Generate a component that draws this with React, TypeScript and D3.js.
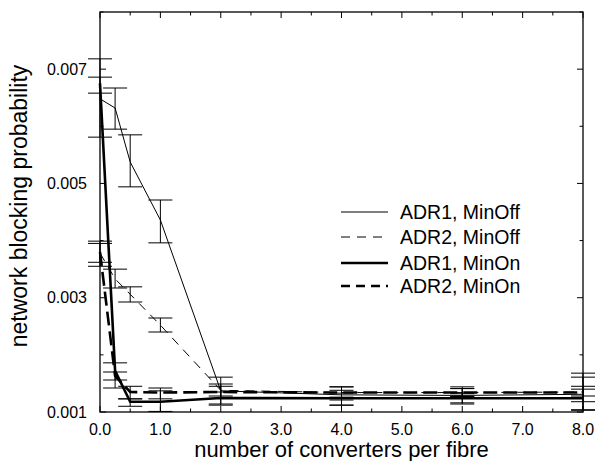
import React from "react";
import * as d3 from "d3";

const xVals = [0, 0.25, 0.5, 1, 2, 4, 6, 8];

const adr1MinOff = [0.00648, 0.00632, 0.005375, 0.00436, 0.00137, 0.0013, 0.00129, 0.00131];
const adr1MinOffLo = [0.00581, 0.00595, 0.00494, 0.00396, 0.00112, 0.00112, 0.00114, 0.00104];
const adr1MinOffHi = [0.00686, 0.00667, 0.00585, 0.00471, 0.00161, 0.00144, 0.00144, 0.00168];

const adr2MinOff = [0.00378, 0.00333, 0.00306, 0.00252, 0.00138, 0.00134, 0.00134, 0.00135];
const adr2MinOffLo = [0.00355, 0.00317, 0.002925, 0.0024, 0.00128, 0.00121, 0.00127, 0.00118];
const adr2MinOffHi = [0.00399, 0.0035, 0.00319, 0.002645, 0.00149, 0.00144, 0.00141, 0.00161];

const adr1MinOn = [0.00675, 0.00172, 0.00118, 0.00118, 0.001245, 0.00124, 0.00124, 0.00124];
const adr1MinOnLo = [0.00658, 0.00156, 0.0011, 0.00101, 0.00114, 0.00112, 0.00116, 0.00103];
const adr1MinOnHi = [0.00718, 0.00186, 0.00123, 0.00137, 0.00135, 0.00133, 0.00132, 0.0014];

const adr2MinOn = [0.0038, 0.00163, 0.00135, 0.00134, 0.00135, 0.00134, 0.00134, 0.00134];
const adr2MinOnLo = [0.00362, 0.00142, 0.00123, 0.00123, 0.00124, 0.00126, 0.00127, 0.00128];
const adr2MinOnHi = [0.00395, 0.0017, 0.00145, 0.00142, 0.00145, 0.00138, 0.00141, 0.00145];

const seriesNames = ["ADR1, MinOff", "ADR2, MinOff", "ADR1, MinOn", "ADR2, MinOn"];

const xTicksMajor = [0, 1, 2, 3, 4, 5, 6, 7, 8];
const xTicksMinor = [0.5, 1.5, 2.5, 3.5, 4.5, 5.5, 6.5, 7.5];
const yTicksMajor = [0.001, 0.003, 0.005, 0.007];
const yTicksMinor = [0.002, 0.004, 0.006, 0.008];

const FONT = "'Liberation Sans', Arial, Helvetica, sans-serif";

export default function App() {
  const W = 597, H = 461;
  const left = 100, right = 583, top = 12, bottom = 412;
  const x = d3.scaleLinear().domain([0, 8]).range([left, right]);
  const y = d3.scaleLinear().domain([0.001, 0.008]).range([bottom, top]);

  const series = [
    { name: seriesNames[0], v: adr1MinOff, lo: adr1MinOffLo, hi: adr1MinOffHi, w: 1, dash: "none", legDash: "none" },
    { name: seriesNames[1], v: adr2MinOff, lo: adr2MinOffLo, hi: adr2MinOffHi, w: 1, dash: "9,7", legDash: "9,7" },
    { name: seriesNames[2], v: adr1MinOn, lo: adr1MinOnLo, hi: adr1MinOnHi, w: 2.6, dash: "none", legDash: "none" },
    { name: seriesNames[3], v: adr2MinOn, lo: adr2MinOnLo, hi: adr2MinOnHi, w: 2.6, dash: "14,6", legDash: "9,6" },
  ];

  const line = d3
    .line<number>()
    .x((_, i) => x(xVals[i]))
    .y((d) => y(d));

  const capW = 12;
  const legendY = [212, 237, 263, 286];

  return (
    <svg width={W} height={H} style={{ position: "absolute", left: 0, top: 0, background: "#fff" }} fontFamily={FONT}>
      <rect x={0} y={0} width={W} height={H} fill="#fff" />
      {/* error bars */}
      {series.map((s, si) => (
        <g key={"e" + si} stroke="#000" strokeWidth={1} fill="none">
          {xVals.map((xv, i) => {
            const cx = x(xv);
            return (
              <g key={i}>
                <line x1={cx} x2={cx} y1={y(s.lo[i])} y2={y(s.hi[i])} />
                <line x1={cx - capW} x2={cx + capW} y1={y(s.lo[i])} y2={y(s.lo[i])} />
                <line x1={cx - capW} x2={cx + capW} y1={y(s.hi[i])} y2={y(s.hi[i])} />
              </g>
            );
          })}
        </g>
      ))}
      {/* lines */}
      {series.map((s, si) => (
        <path
          key={"l" + si}
          d={line(s.v) || ""}
          fill="none"
          stroke="#000"
          strokeWidth={s.w}
          strokeDasharray={s.dash}
        />
      ))}
      {/* frame */}
      <rect x={left} y={top} width={right - left} height={bottom - top} fill="none" stroke="#000" strokeWidth={1.3} />
      {/* x ticks */}
      {xTicksMajor.map((t) => (
        <g key={"xm" + t} stroke="#000" strokeWidth={1}>
          <line x1={x(t)} x2={x(t)} y1={bottom} y2={bottom - 6} />
          <line x1={x(t)} x2={x(t)} y1={top} y2={top + 6} />
        </g>
      ))}
      {xTicksMinor.map((t) => (
        <g key={"xn" + t} stroke="#000" strokeWidth={1}>
          <line x1={x(t)} x2={x(t)} y1={bottom} y2={bottom - 3.5} />
          <line x1={x(t)} x2={x(t)} y1={top} y2={top + 3.5} />
        </g>
      ))}
      {xTicksMajor.map((t) => (
        <text key={"xl" + t} x={x(t)} y={435} fontSize={16} textAnchor="middle" fill="#000">
          {d3.format(".1f")(t)}
        </text>
      ))}
      {/* y ticks */}
      {yTicksMajor.map((t) => (
        <g key={"ym" + t} stroke="#000" strokeWidth={1}>
          <line x1={left} x2={left + 6} y1={y(t)} y2={y(t)} />
          <line x1={right} x2={right - 6} y1={y(t)} y2={y(t)} />
        </g>
      ))}
      {yTicksMinor.map((t) => (
        <g key={"yn" + t} stroke="#000" strokeWidth={1}>
          <line x1={left} x2={left + 3.5} y1={y(t)} y2={y(t)} />
          <line x1={right} x2={right - 3.5} y1={y(t)} y2={y(t)} />
        </g>
      ))}
      {yTicksMajor.map((t) => (
        <text key={"yl" + t} x={87} y={y(t)} dy="0.35em" fontSize={16} textAnchor="end" fill="#000">
          {d3.format(".3f")(t)}
        </text>
      ))}
      {/* axis titles */}
      <text x={(left + right) / 2} y={457} fontSize={22} textAnchor="middle" fill="#000">
        number of converters per fibre
      </text>
      <text
        transform={`translate(27,${(top + bottom) / 2 - 6}) rotate(-90)`}
        fontSize={23}
        textAnchor="middle"
        fill="#000"
      >
        network blocking probability
      </text>
      {/* legend */}
      {series.map((s, si) => (
        <g key={"lg" + si}>
          <line
            x1={341}
            x2={388}
            y1={legendY[si]}
            y2={legendY[si]}
            stroke="#000"
            strokeWidth={s.w}
            strokeDasharray={s.legDash}
          />
          <text x={400} y={legendY[si]} dy="0.35em" fontSize={19.5} fill="#000">
            {s.name}
          </text>
        </g>
      ))}
    </svg>
  );
}
